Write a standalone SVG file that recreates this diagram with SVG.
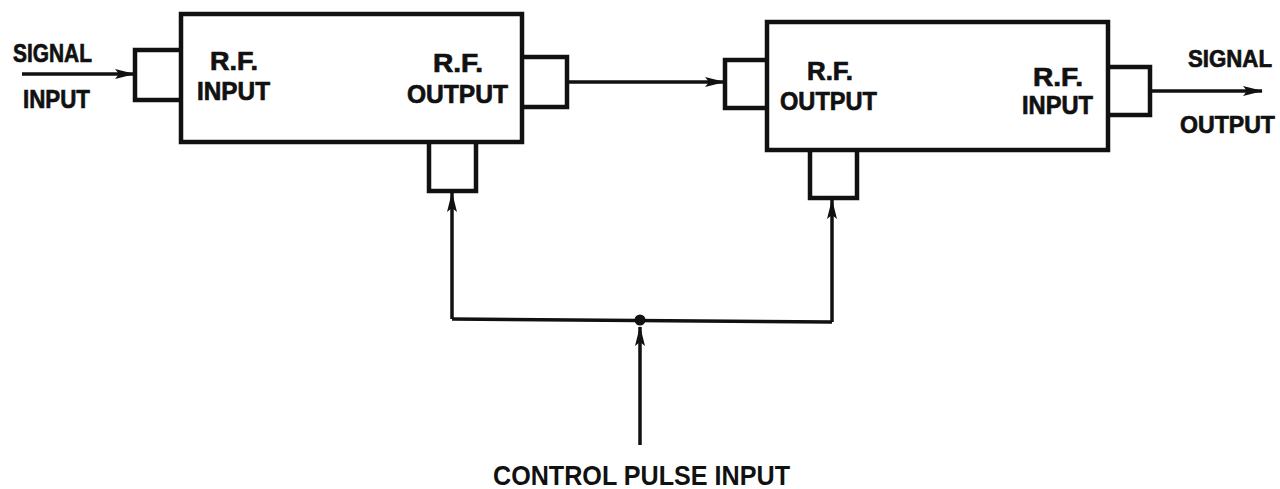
<svg xmlns="http://www.w3.org/2000/svg" width="1280" height="489" viewBox="0 0 1280 489">
<style>
.box{fill:none;stroke:#111;stroke-width:4.5;stroke-linejoin:miter}
.port{fill:none;stroke:#111;stroke-width:4.5}
.wire{fill:none;stroke:#111;stroke-width:3.5}
.lbl{font-family:"Liberation Sans",Arial,sans-serif;font-weight:bold;font-size:26px;fill:#111;stroke:#111;stroke-width:0.7}
.sm{font-size:24px}
.big{font-family:"Liberation Sans",Arial,sans-serif;font-weight:bold;font-size:28px;fill:#111}
</style>
<defs>
<marker id="arr" markerWidth="20" markerHeight="12" refX="19" refY="6" orient="auto" markerUnits="userSpaceOnUse">
<path d="M0,1 L20,6 L0,11 L4,6 Z" fill="#111"/>
</marker>
</defs>
<rect width="1280" height="489" fill="#fff"/>
<g id="attenuator1">
<rect class="box" x="181" y="14" width="341" height="128"/>
<path class="port" d="M181,50 H135 V100 H181"/>
<path class="port" d="M522,57 H567 V107 H522"/>
<path class="port" d="M429,142 V191 H476 V142"/>
<text class="lbl" x="210" y="70" textLength="48" lengthAdjust="spacingAndGlyphs">R.F.</text>
<text class="lbl" x="197" y="100" textLength="73" lengthAdjust="spacingAndGlyphs">INPUT</text>
<text class="lbl" x="433" y="72" textLength="50" lengthAdjust="spacingAndGlyphs">R.F.</text>
<text class="lbl" x="407" y="103" textLength="101" lengthAdjust="spacingAndGlyphs">OUTPUT</text>
</g>
<g id="attenuator2">
<rect class="box" x="767" y="22" width="341" height="128"/>
<path class="port" d="M767,60 H725 V108 H767"/>
<path class="port" d="M1108,67 H1150 V115 H1108"/>
<path class="port" d="M810,150 V198 H857 V150"/>
<text class="lbl" x="807" y="80" textLength="46" lengthAdjust="spacingAndGlyphs">R.F.</text>
<text class="lbl" x="780" y="110" textLength="97" lengthAdjust="spacingAndGlyphs">OUTPUT</text>
<text class="lbl" x="1033" y="86" textLength="50" lengthAdjust="spacingAndGlyphs">R.F.</text>
<text class="lbl" x="1022" y="114" textLength="71" lengthAdjust="spacingAndGlyphs">INPUT</text>
</g>
<g id="signal-input">
<text class="lbl" x="13" y="62" textLength="79" lengthAdjust="spacingAndGlyphs">SIGNAL</text>
<text class="lbl" x="23" y="108" textLength="67" lengthAdjust="spacingAndGlyphs">INPUT</text>
</g>
<g id="signal-output">
<text class="lbl sm" x="1188" y="67" textLength="84" lengthAdjust="spacingAndGlyphs">SIGNAL</text>
<text class="lbl sm" x="1180" y="133" textLength="95" lengthAdjust="spacingAndGlyphs">OUTPUT</text>
</g>
<g id="control-input">
<text class="big" x="493" y="485" textLength="297" lengthAdjust="spacingAndGlyphs">CONTROL PULSE INPUT</text>
</g>
<g id="connectors">
<line class="wire" x1="22" y1="74" x2="134" y2="74" marker-end="url(#arr)"/>
<line class="wire" x1="567" y1="82" x2="724" y2="82" marker-end="url(#arr)"/>
<line class="wire" x1="1150" y1="91" x2="1262" y2="91" marker-end="url(#arr)"/>
<polyline class="wire" points="452,319 832,322"/>
<line class="wire" x1="452" y1="319" x2="452" y2="193" marker-end="url(#arr)"/>
<line class="wire" x1="832" y1="322" x2="832" y2="200" marker-end="url(#arr)"/>
<line class="wire" x1="640" y1="445" x2="640" y2="327" marker-end="url(#arr)"/>
<circle cx="640" cy="320" r="5.5" fill="#111"/>
</g>
</svg>
